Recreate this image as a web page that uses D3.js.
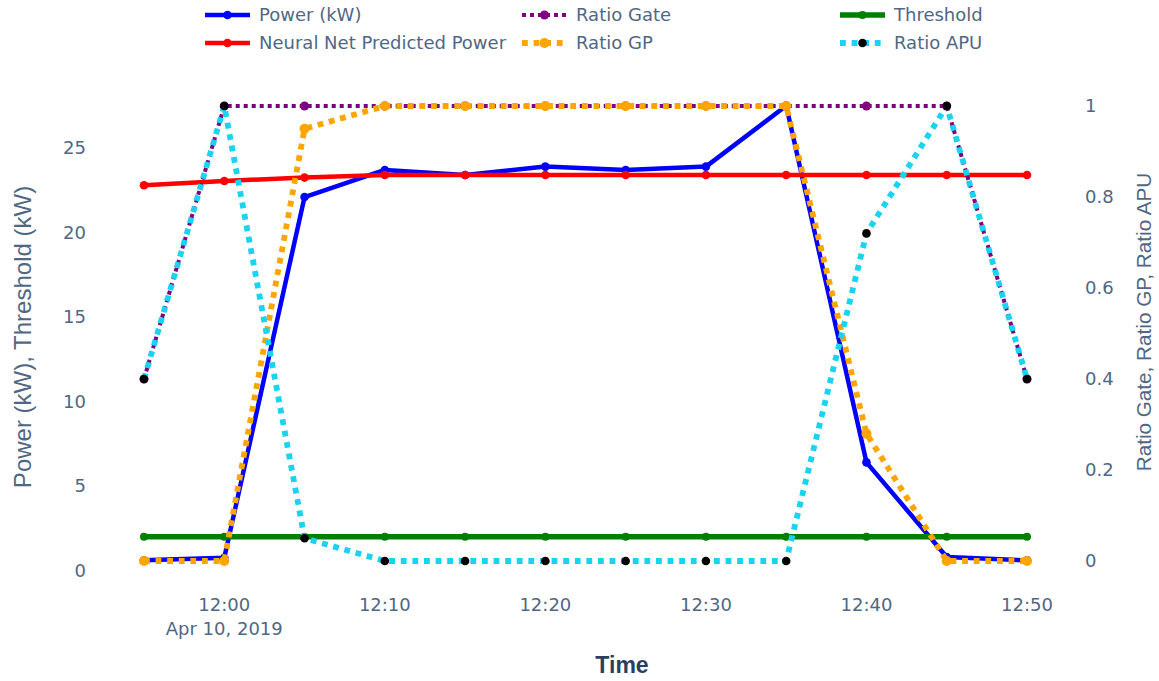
<!DOCTYPE html>
<meta charset="utf-8">
<script src="https://d3js.org/d3.v7.min.js"></script>
<style>
  body { margin: 0; background: #fff; }
  text { font-family: "DejaVu Sans", Verdana, sans-serif; }
  .title { font-family: "Liberation Sans", Arial, sans-serif; }
</style>
<div id="chart"></div>
<script>

// data
var times = ["11:55", "12:00", "12:05", "12:10", "12:15", "12:20", "12:25", "12:30", "12:35", "12:40", "12:45", "12:50"];
var power = [0.6, 0.75, 22.1, 23.7, 23.4, 23.9, 23.7, 23.9, 27.5, 6.4, 0.8, 0.6];
var nnPower = [22.8, 23.05, 23.25, 23.4, 23.4, 23.4, 23.4, 23.4, 23.4, 23.4, 23.4, 23.4];
var threshold = [2, 2, 2, 2, 2, 2, 2, 2, 2, 2, 2, 2];
var ratioGate = [0.4, 1, 1, 1, 1, 1, 1, 1, 1, 1, 1, 0.4];
var ratioGP = [0, 0, 0.95, 1, 1, 1, 1, 1, 1, 0.28, 0, 0];
var ratioAPU = [0.4, 1, 0.05, 0, 0, 0, 0, 0, 0, 0.72, 1, 0.4];

var leftTicks = [0, 5, 10, 15, 20, 25];
var rightTicks = [0, 0.2, 0.4, 0.6, 0.8, 1];
var xTicks = ["12:00", "12:10", "12:20", "12:30", "12:40", "12:50"];

var parse = d3.timeParse("%Y-%m-%d %H:%M");
var day = "2019-04-10 ";
var dates = times.map(function(t) { return parse(day + t); });

var width = 1159, height = 681;
var svg = d3.select("#chart").append("svg")
    .attr("width", width)
    .attr("height", height);

var x = d3.scaleTime()
    .domain([dates[0], dates[dates.length - 1]])
    .range([144, 1027]);
var yL = d3.scaleLinear().domain([0, 25]).range([570.5, 148]);
var yR = d3.scaleLinear().domain([0, 1]).range([561, 106]);

var tickColor = "#506784";

// x tick labels
var xAxis = svg.append("g");
xTicks.forEach(function(t, i) {
  var d = parse(day + t);
  xAxis.append("text")
    .attr("x", x(d)).attr("y", 611)
    .attr("text-anchor", "middle")
    .attr("fill", tickColor)
    .style("font-size", "18px")
    .text(t);
  if (i == 0) {
    xAxis.append("text")
      .attr("x", x(d)).attr("y", 635)
      .attr("text-anchor", "middle")
      .attr("fill", tickColor)
      .style("font-size", "18px")
      .text("Apr 10, 2019");
  }
});

// left axis
svg.append("g").selectAll("text")
  .data(leftTicks).enter().append("text")
    .attr("x", 86).attr("y", function(d) { return yL(d); })
    .attr("dy", "0.36em")
    .attr("text-anchor", "end")
    .attr("fill", tickColor)
    .style("font-size", "18px")
    .text(function(d) { return d; });

// right axis
svg.append("g").selectAll("text")
  .data(rightTicks).enter().append("text")
    .attr("x", 1085).attr("y", function(d) { return yR(d); })
    .attr("dy", "0.36em")
    .attr("fill", tickColor)
    .style("font-size", "18px")
    .text(function(d) { return d; });

// axis titles
svg.append("text")
  .attr("class", "title")
  .attr("transform", "translate(22,337)rotate(-90)")
  .attr("text-anchor", "middle")
  .attr("dy", "0.36em")
  .attr("fill", tickColor)
  .style("font-size", "24px")
  .text("Power (kW), Threshold (kW)");
svg.append("text")
  .attr("class", "title")
  .attr("transform", "translate(1144,322)rotate(-90)")
  .attr("text-anchor", "middle")
  .attr("dy", "0.36em")
  .attr("fill", tickColor)
  .style("font-size", "20.7px")
  .text("Ratio Gate, Ratio GP, Ratio APU");
svg.append("text")
  .attr("class", "title")
  .attr("x", 622).attr("y", 665)
  .attr("dy", "0.36em")
  .attr("text-anchor", "middle")
  .attr("fill", "#2a3f5f")
  .style("font-size", "23px")
  .style("font-weight", "bold")
  .text("Time");

// traces: left axis first, then right axis on top
var traces = [
  {name: "Power (kW)", values: power, y: yL, color: "#0000ff", marker: "#0000ff", w: 4.5, dash: null, r: 4.3, col: 0, row: 0},
  {name: "Neural Net Predicted Power", values: nnPower, y: yL, color: "#ff0000", marker: "#ff0000", w: 4.5, dash: null, r: 4.3, col: 0, row: 1},
  {name: "Threshold", values: threshold, y: yL, color: "#008000", marker: "#008000", w: 5.5, dash: null, r: 4, col: 2, row: 0},
  {name: "Ratio Gate", values: ratioGate, y: yR, color: "#800080", marker: "#800080", w: 4, dash: "4,4", r: 4.5, col: 1, row: 0},
  {name: "Ratio GP", values: ratioGP, y: yR, color: "#ffa500", marker: "#ffa500", w: 5.8, dash: "5.8,5.8", r: 5, col: 1, row: 1},
  {name: "Ratio APU", values: ratioAPU, y: yR, color: "#19d3f3", marker: "#000000", w: 5.8, dash: "5.8,5.8", r: 4.3, col: 2, row: 1}
];

traces.forEach(function(tr) {
  var pts = tr.values.map(function(v, i) { return [dates[i], v]; });
  var line = d3.line()
    .x(function(d) { return x(d[0]); })
    .y(function(d) { return tr.y(d[1]); });
  var g = svg.append("g");
  g.append("path")
    .datum(pts)
    .attr("d", line)
    .attr("fill", "none")
    .attr("stroke", tr.color)
    .attr("stroke-width", tr.w)
    .attr("stroke-dasharray", tr.dash)
    .attr("stroke-linejoin", "round");
  g.selectAll("circle")
    .data(pts).enter().append("circle")
      .attr("cx", function(d) { return x(d[0]); })
      .attr("cy", function(d) { return tr.y(d[1]); })
      .attr("r", tr.r)
      .attr("fill", tr.marker);
});

// legend
var legX = [205, 522, 840], legY = [15, 43];
var legend = svg.append("g");
traces.forEach(function(tr) {
  var lx = legX[tr.col], ly = legY[tr.row];
  legend.append("line")
    .attr("x1", lx).attr("x2", lx + 45)
    .attr("y1", ly).attr("y2", ly)
    .attr("stroke", tr.color)
    .attr("stroke-width", tr.w)
    .attr("stroke-dasharray", tr.dash);
  legend.append("circle")
    .attr("cx", lx + 22.5).attr("cy", ly)
    .attr("r", tr.r)
    .attr("fill", tr.marker);
  legend.append("text")
    .attr("x", lx + 54).attr("y", ly)
    .attr("dy", "0.36em")
    .attr("fill", tickColor)
    .style("font-size", "18px")
    .text(tr.name);
});

</script>
